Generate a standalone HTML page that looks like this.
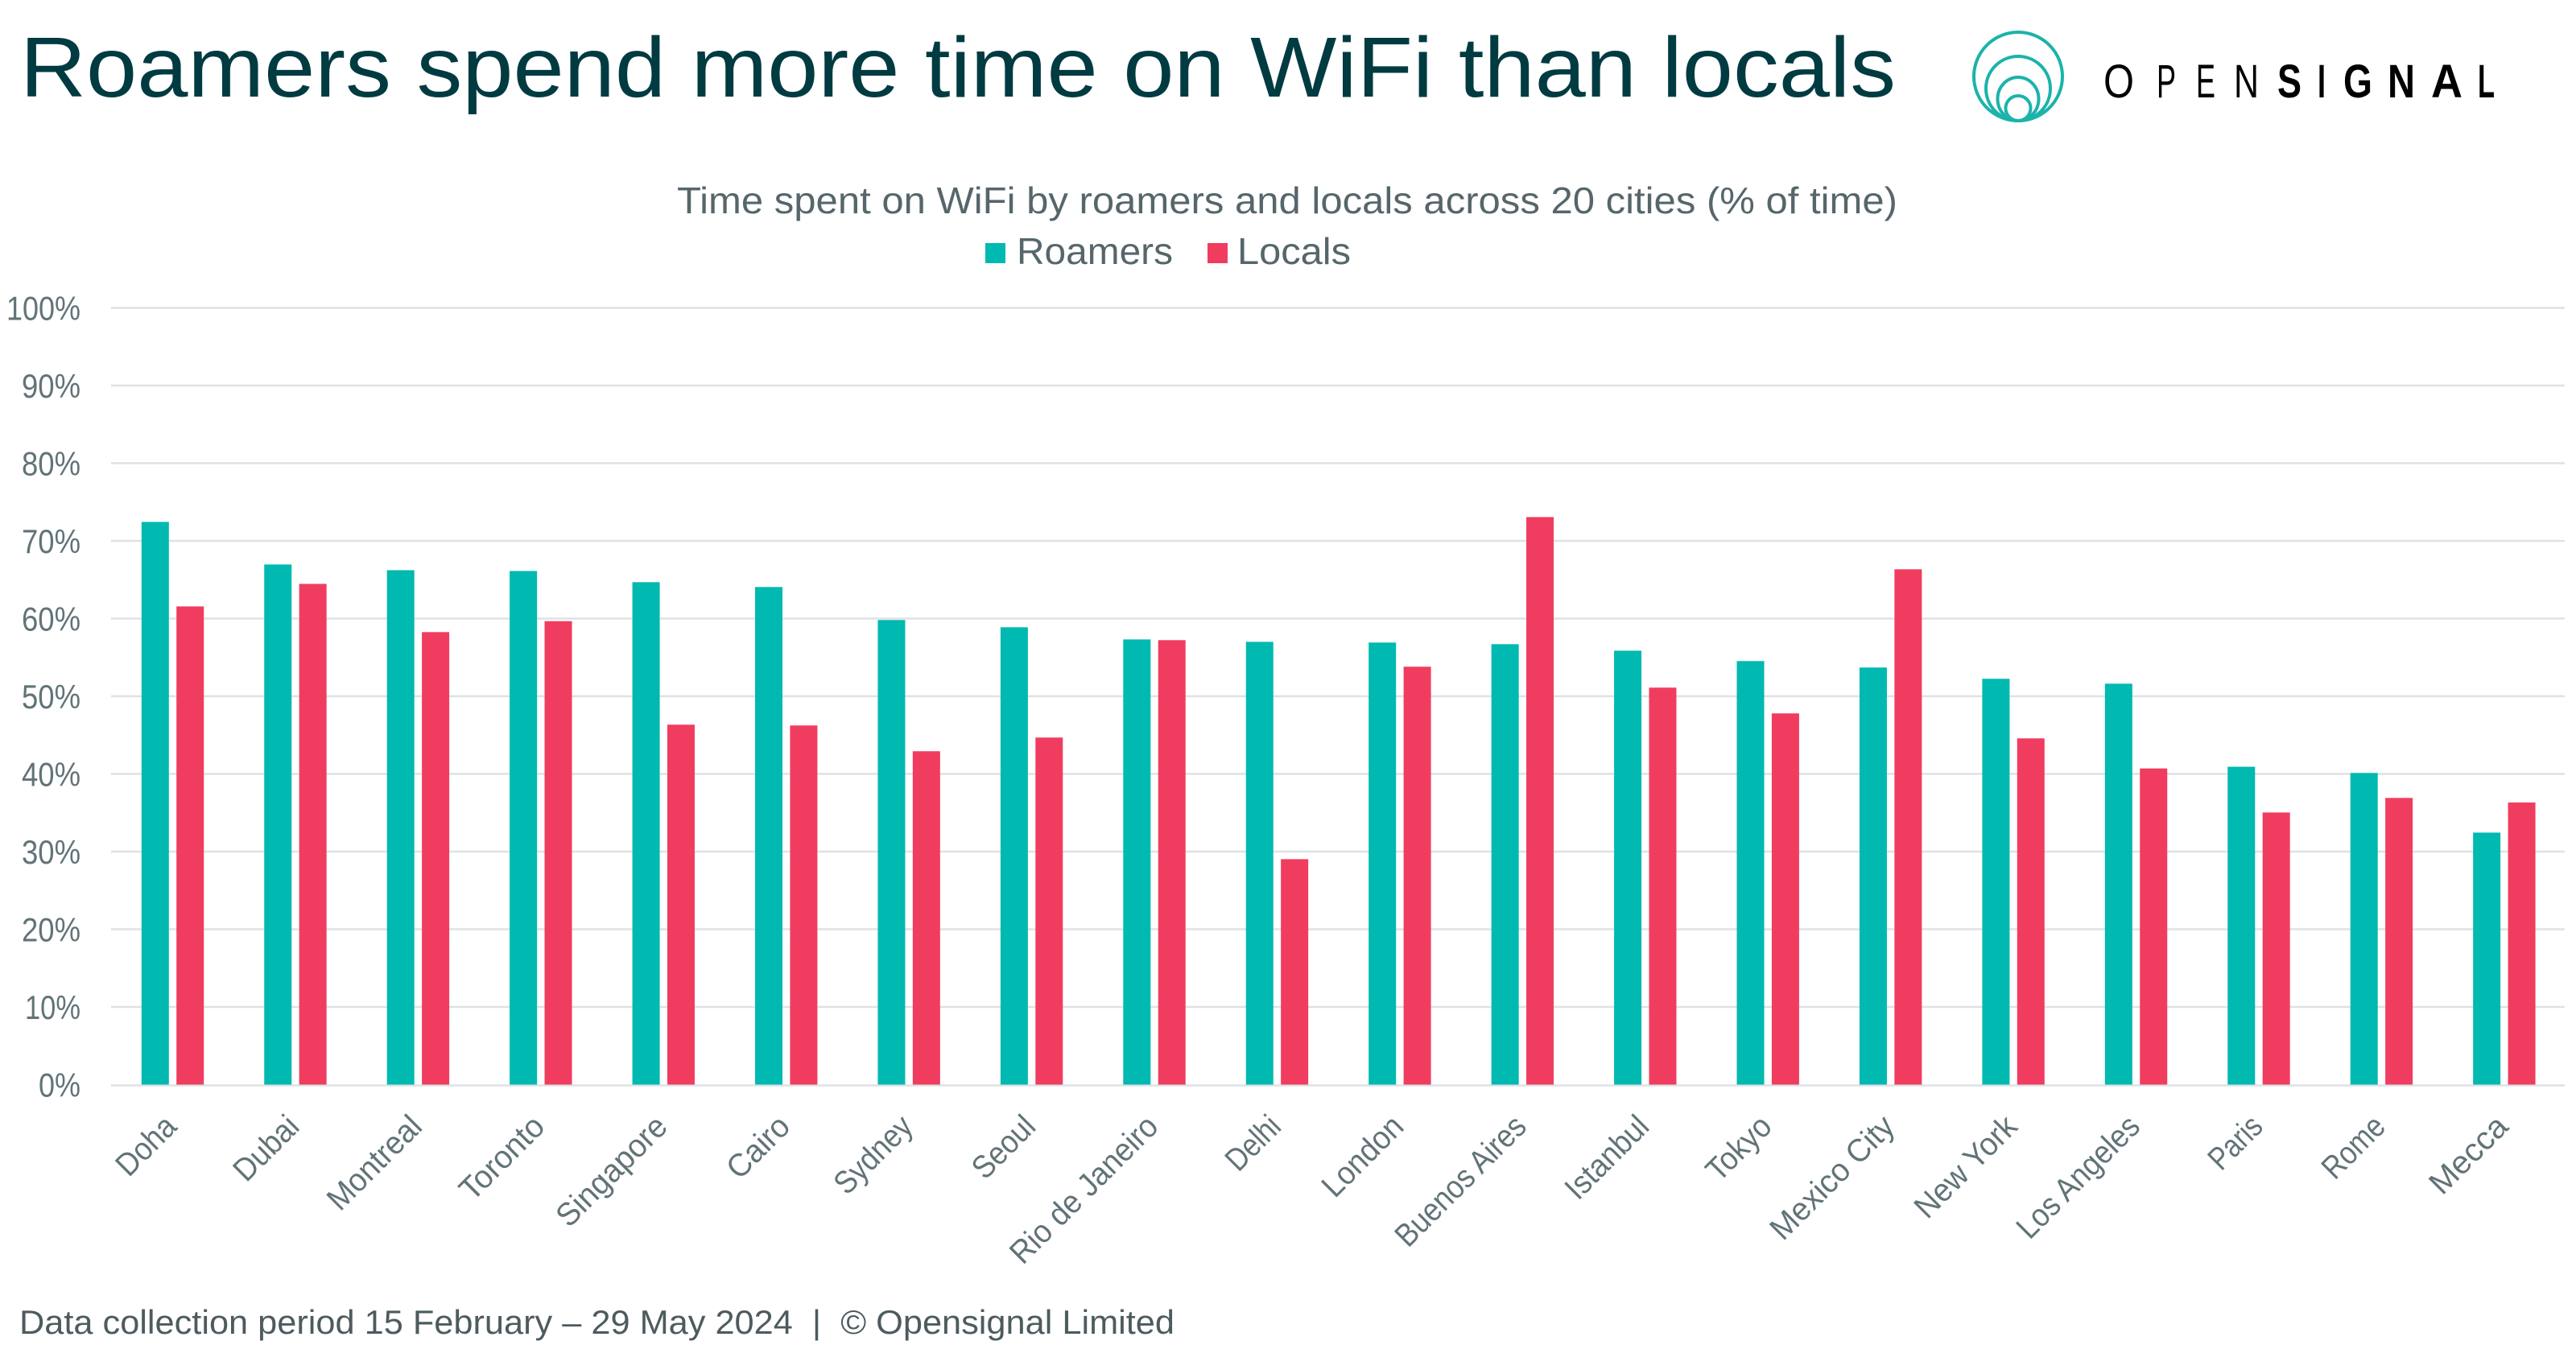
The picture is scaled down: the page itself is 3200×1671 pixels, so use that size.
<!DOCTYPE html>
<html>
<head>
<meta charset="utf-8">
<style>
  html, body { margin: 0; padding: 0; background: #ffffff; }
  svg { display: block; }
  text { font-family: "Liberation Sans", "DejaVu Sans", sans-serif; }
</style>
</head>
<body>
<svg width="3200" height="1671" viewBox="0 0 3200 1671" xmlns="http://www.w3.org/2000/svg">
  <rect x="0" y="0" width="3200" height="1671" fill="#ffffff"/>

  <!-- Title -->
  <text x="25" y="120" font-size="106" fill="#003B41" textLength="2330" lengthAdjust="spacingAndGlyphs">Roamers spend more time on WiFi than locals</text>

  <!-- Logo -->
  <g fill="none" stroke="#1BB3AA" stroke-width="4">
    <ellipse cx="2507" cy="95" rx="55" ry="55"/>
    <ellipse cx="2507" cy="110" rx="40" ry="40"/>
    <ellipse cx="2507" cy="123" rx="25.5" ry="27"/>
    <ellipse cx="2507" cy="134.5" rx="15.5" ry="15.5"/>
  </g>
  <g font-size="58" fill="#000000">
    <text x="2613" y="121" textLength="38" lengthAdjust="spacingAndGlyphs" font-weight="normal">O</text>
    <text x="2679" y="121" textLength="24" lengthAdjust="spacingAndGlyphs">P</text>
    <text x="2728" y="121" textLength="24" lengthAdjust="spacingAndGlyphs">E</text>
    <text x="2775" y="121" textLength="31" lengthAdjust="spacingAndGlyphs">N</text>
    <text x="2829" y="121" textLength="30" lengthAdjust="spacingAndGlyphs" font-weight="bold">S</text>
    <text x="2879" y="121" textLength="10" lengthAdjust="spacingAndGlyphs" font-weight="bold">I</text>
    <text x="2911" y="121" textLength="36" lengthAdjust="spacingAndGlyphs" font-weight="bold">G</text>
    <text x="2966" y="121" textLength="34" lengthAdjust="spacingAndGlyphs" font-weight="bold">N</text>
    <text x="3020" y="121" textLength="39" lengthAdjust="spacingAndGlyphs" font-weight="bold">A</text>
    <text x="3078" y="121" textLength="21" lengthAdjust="spacingAndGlyphs" font-weight="bold">L</text>
  </g>

  <!-- Subtitle -->
  <text x="841" y="265" font-size="46" fill="#56666B" textLength="1516" lengthAdjust="spacingAndGlyphs">Time spent on WiFi by roamers and locals across 20 cities (% of time)</text>

  <!-- Legend -->
  <rect x="1224" y="302" width="25" height="25" fill="#00B9B1"/>
  <text x="1263" y="328" font-size="46" fill="#56666B" textLength="194" lengthAdjust="spacingAndGlyphs">Roamers</text>
  <rect x="1500" y="302" width="25" height="25" fill="#F03D5F"/>
  <text x="1537" y="328" font-size="46" fill="#56666B" textLength="141" lengthAdjust="spacingAndGlyphs">Locals</text>

  <!-- Gridlines -->
  <g stroke="#DEE2E5" stroke-width="2.5">
    <line x1="138" y1="382.5" x2="3186" y2="382.5"/>
    <line x1="138" y1="479" x2="3186" y2="479"/>
    <line x1="138" y1="575.5" x2="3186" y2="575.5"/>
    <line x1="138" y1="672" x2="3186" y2="672"/>
    <line x1="138" y1="768.5" x2="3186" y2="768.5"/>
    <line x1="138" y1="865" x2="3186" y2="865"/>
    <line x1="138" y1="961.5" x2="3186" y2="961.5"/>
    <line x1="138" y1="1058" x2="3186" y2="1058"/>
    <line x1="138" y1="1154.5" x2="3186" y2="1154.5"/>
    <line x1="138" y1="1251" x2="3186" y2="1251"/>
    <line x1="138" y1="1348.5" x2="3186" y2="1348.5"/>
  </g>

  <!-- Y axis labels -->
  <g font-size="42" fill="#627378" text-anchor="end">
    <text x="100" y="397.5" textLength="92" lengthAdjust="spacingAndGlyphs">100%</text>
    <text x="100" y="494" textLength="73" lengthAdjust="spacingAndGlyphs">90%</text>
    <text x="100" y="590.5" textLength="73" lengthAdjust="spacingAndGlyphs">80%</text>
    <text x="100" y="687" textLength="73" lengthAdjust="spacingAndGlyphs">70%</text>
    <text x="100" y="783.5" textLength="73" lengthAdjust="spacingAndGlyphs">60%</text>
    <text x="100" y="880" textLength="73" lengthAdjust="spacingAndGlyphs">50%</text>
    <text x="100" y="976.5" textLength="73" lengthAdjust="spacingAndGlyphs">40%</text>
    <text x="100" y="1073" textLength="73" lengthAdjust="spacingAndGlyphs">30%</text>
    <text x="100" y="1169.5" textLength="73" lengthAdjust="spacingAndGlyphs">20%</text>
    <text x="100" y="1266" textLength="69" lengthAdjust="spacingAndGlyphs">10%</text>
    <text x="100" y="1362.5" textLength="52" lengthAdjust="spacingAndGlyphs">0%</text>
  </g>

  <!-- Roamers bars -->
  <g fill="#00B9B1">
    <rect x="175.8" y="648.4" width="34" height="699.1"/>
    <rect x="328.24" y="701.3" width="34" height="646.2"/>
    <rect x="480.68" y="708.4" width="34" height="639.1"/>
    <rect x="633.12" y="709.4" width="34" height="638.1"/>
    <rect x="785.56" y="723.3" width="34" height="624.2"/>
    <rect x="938" y="729.3" width="34" height="618.2"/>
    <rect x="1090.44" y="770.3" width="34" height="577.2"/>
    <rect x="1242.88" y="779.3" width="34" height="568.2"/>
    <rect x="1395.32" y="794.4" width="34" height="553.1"/>
    <rect x="1547.76" y="797.4" width="34" height="550.1"/>
    <rect x="1700.2" y="798.3" width="34" height="549.2"/>
    <rect x="1852.64" y="800.3" width="34" height="547.2"/>
    <rect x="2005.08" y="808.4" width="34" height="539.1"/>
    <rect x="2157.52" y="821.3" width="34" height="526.2"/>
    <rect x="2309.96" y="829.3" width="34" height="518.2"/>
    <rect x="2462.4" y="843.3" width="34" height="504.2"/>
    <rect x="2614.84" y="849.4" width="34" height="498.1"/>
    <rect x="2767.28" y="952.6" width="34" height="394.9"/>
    <rect x="2919.72" y="960.3" width="34" height="387.2"/>
    <rect x="3072.16" y="1034.4" width="34" height="313.1"/>
  </g>

  <!-- Locals bars -->
  <g fill="#F03D5F">
    <rect x="219.2" y="753.4" width="34" height="594.1"/>
    <rect x="371.64" y="725.4" width="34" height="622.1"/>
    <rect x="524.08" y="785.3" width="34" height="562.2"/>
    <rect x="676.52" y="771.7" width="34" height="575.8"/>
    <rect x="828.96" y="900.3" width="34" height="447.2"/>
    <rect x="981.4" y="901.3" width="34" height="446.2"/>
    <rect x="1133.84" y="933.3" width="34" height="414.2"/>
    <rect x="1286.28" y="916.3" width="34" height="431.2"/>
    <rect x="1438.72" y="795.3" width="34" height="552.2"/>
    <rect x="1591.16" y="1067.4" width="34" height="280.1"/>
    <rect x="1743.6" y="828.3" width="34" height="519.2"/>
    <rect x="1896.04" y="642.4" width="34" height="705.1"/>
    <rect x="2048.48" y="854.3" width="34" height="493.2"/>
    <rect x="2200.92" y="886.3" width="34" height="461.2"/>
    <rect x="2353.36" y="707.3" width="34" height="640.2"/>
    <rect x="2505.8" y="917.3" width="34" height="430.2"/>
    <rect x="2658.24" y="954.7" width="34" height="392.8"/>
    <rect x="2810.68" y="1009.4" width="34" height="338.1"/>
    <rect x="2963.12" y="991.3" width="34" height="356.2"/>
    <rect x="3115.56" y="997" width="34" height="350.5"/>
  </g>

  <!-- X axis labels -->
  <g font-size="40" fill="#627378" text-anchor="end">
    <text transform="translate(221.5,1402) rotate(-45)" textLength="87" lengthAdjust="spacingAndGlyphs">Doha</text>
    <text transform="translate(373.9,1402) rotate(-45)" textLength="96" lengthAdjust="spacingAndGlyphs">Dubai</text>
    <text transform="translate(526.4,1402) rotate(-45)" textLength="147" lengthAdjust="spacingAndGlyphs">Montreal</text>
    <text transform="translate(678.8,1402) rotate(-45)" textLength="130" lengthAdjust="spacingAndGlyphs">Toronto</text>
    <text transform="translate(831.3,1402) rotate(-45)" textLength="176" lengthAdjust="spacingAndGlyphs">Singapore</text>
    <text transform="translate(983.7,1402) rotate(-45)" textLength="92" lengthAdjust="spacingAndGlyphs">Cairo</text>
    <text transform="translate(1136.1,1402) rotate(-45)" textLength="119" lengthAdjust="spacingAndGlyphs">Sydney</text>
    <text transform="translate(1288.6,1402) rotate(-45)" textLength="92" lengthAdjust="spacingAndGlyphs">Seoul</text>
    <text transform="translate(1441,1402) rotate(-45)" textLength="241" lengthAdjust="spacingAndGlyphs">Rio de Janeiro</text>
    <text transform="translate(1593.5,1402) rotate(-45)" textLength="78" lengthAdjust="spacingAndGlyphs">Delhi</text>
    <text transform="translate(1745.9,1402) rotate(-45)" textLength="124" lengthAdjust="spacingAndGlyphs">London</text>
    <text transform="translate(1898.3,1402) rotate(-45)" textLength="211" lengthAdjust="spacingAndGlyphs">Buenos Aires</text>
    <text transform="translate(2050.8,1402) rotate(-45)" textLength="128" lengthAdjust="spacingAndGlyphs">Istanbul</text>
    <text transform="translate(2203.2,1402) rotate(-45)" textLength="96" lengthAdjust="spacingAndGlyphs">Tokyo</text>
    <text transform="translate(2355.7,1402) rotate(-45)" textLength="199" lengthAdjust="spacingAndGlyphs">Mexico City</text>
    <text transform="translate(2508.1,1402) rotate(-45)" textLength="161" lengthAdjust="spacingAndGlyphs">New York</text>
    <text transform="translate(2660.5,1402) rotate(-45)" textLength="197" lengthAdjust="spacingAndGlyphs">Los Angeles</text>
    <text transform="translate(2813,1402) rotate(-45)" textLength="76" lengthAdjust="spacingAndGlyphs">Paris</text>
    <text transform="translate(2965.4,1402) rotate(-45)" textLength="92" lengthAdjust="spacingAndGlyphs">Rome</text>
    <text transform="translate(3117.9,1402) rotate(-45)" textLength="119" lengthAdjust="spacingAndGlyphs">Mecca</text>
  </g>

  <!-- Footer -->
  <text x="24" y="1657" font-size="42" fill="#4D5B5F" style="white-space:pre" textLength="1435" lengthAdjust="spacingAndGlyphs">Data collection period 15 February – 29 May 2024  |  © Opensignal Limited</text>
</svg>
</body>
</html>
